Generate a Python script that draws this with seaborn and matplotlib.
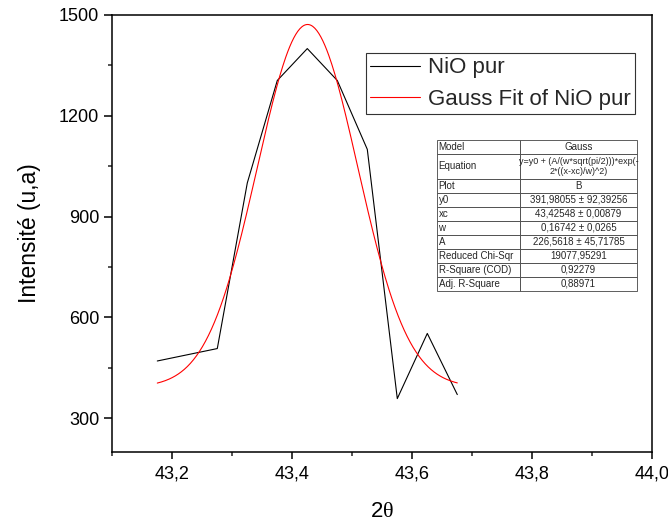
import numpy as np
import pandas as pd
import seaborn as sns
import matplotlib
matplotlib.use("Agg")
import matplotlib.pyplot as plt
from matplotlib.ticker import MultipleLocator, FuncFormatter, FixedLocator

# ---- data ----
two_theta = [43.175, 43.275, 43.325, 43.375, 43.425, 43.475, 43.525, 43.575, 43.625, 43.675]
intensity = [470, 507, 1000, 1305, 1400, 1305, 1100, 358, 552, 370]

# Gauss fit parameters (from the fit table)
y0_fit = 391.98055
xc_fit = 43.42548
w_fit = 0.16742
A_fit = 226.5618

x_ticks = [43.2, 43.4, 43.6, 43.8, 44.0]
y_ticks = [300, 600, 900, 1200, 1500]

table_labels = ["Model", "Equation", "Plot", "y0", "xc", "w", "A",
                "Reduced Chi-Sqr", "R-Square (COD)", "Adj. R-Square"]
table_values = ["Gauss",
                "y=y0 + (A/(w*sqrt(pi/2)))*exp(-\n2*((x-xc)/w)^2)",
                "B",
                "391,98055 \u00b1 92,39256",
                "43,42548 \u00b1 0,00879",
                "0,16742 \u00b1 0,0265",
                "226,5618 \u00b1 45,71785",
                "19077,95291",
                "0,92279",
                "0,88971"]

# ---- style ----
sns.set_theme(style="ticks")
plt.rcParams['font.family'] = ['Liberation Sans', 'DejaVu Sans']
plt.rcParams['mathtext.fontset'] = 'custom'
plt.rcParams['mathtext.rm'] = 'Liberation Serif'

fig = plt.figure(figsize=(6.68, 5.24), dpi=100)
ax = fig.add_axes([0.1681, 0.1380, 0.8084, 0.8334])

df = pd.DataFrame({"x": two_theta, "y": intensity})
xs = np.linspace(two_theta[0], two_theta[-1], 300)
ys = y0_fit + A_fit / (w_fit * np.sqrt(np.pi / 2)) * np.exp(-2 * ((xs - xc_fit) / w_fit) ** 2)
fit_df = pd.DataFrame({"x": xs, "y": ys})

sns.lineplot(data=df, x="x", y="y", ax=ax, color="black", lw=0.8,
             label="NiO pur", sort=False, estimator=None)
sns.lineplot(data=fit_df, x="x", y="y", ax=ax, color="#ff0000", lw=0.8,
             label="Gauss Fit of NiO pur", sort=False, estimator=None)

ax.set_xlim(43.1, 44.0)
ax.set_ylim(200, 1500)
ax.xaxis.set_major_locator(FixedLocator(x_ticks))
ax.xaxis.set_minor_locator(MultipleLocator(0.1))
ax.yaxis.set_major_locator(FixedLocator(y_ticks))
ax.yaxis.set_minor_locator(MultipleLocator(150))
ax.xaxis.set_major_formatter(FuncFormatter(lambda v, p: f"{v:.1f}".replace('.', ',')))
ax.yaxis.set_major_formatter(FuncFormatter(lambda v, p: f"{v:.0f}"))

for s in ax.spines.values():
    s.set_visible(True)
    s.set_linewidth(1.1)
    s.set_color("black")

ax.tick_params(axis='x', which='major', direction='out', length=5, width=1.1,
               labelsize=13, pad=5, colors='black', top=False)
ax.tick_params(axis='x', which='minor', direction='out', length=2.6, width=1.1,
               top=False, bottom=True)
ax.tick_params(axis='y', which='major', direction='out', length=5.5, width=1.1,
               labelsize=13, pad=4, colors='black', right=False)
ax.tick_params(axis='y', which='minor', direction='out', length=3.2, width=1.1,
               right=False, left=True)

ax.set_xlabel(r"2$\mathrm{θ}$", fontsize=16, labelpad=13, color='black')
ax.set_ylabel("Intensité (u,a)", fontsize=16.5, labelpad=13, color='black')

leg = ax.legend(loc='upper left', bbox_to_anchor=(0.470, 0.912), fontsize=16,
                frameon=True, fancybox=False, framealpha=1, edgecolor='#333333',
                handlelength=2.25, handletextpad=0.35, borderpad=0.18,
                labelspacing=0.48, borderaxespad=0)
leg.get_frame().set_linewidth(0.8)

# ---- fit table ----
cell_text = [[l, v] for l, v in zip(table_labels, table_values)]
tbl = ax.table(cellText=cell_text, colWidths=[0.415, 0.585],
               bbox=[0.601, 0.368, 0.371, 0.346], cellLoc='center')
tbl.auto_set_font_size(False)
tbl.set_fontsize(7)
for (r, c), cell in tbl.get_celld().items():
    cell.set_linewidth(0.6)
    cell.set_edgecolor('#444444')
    cell.set_facecolor('white')
    cell.PAD = 0.02
    if c == 0:
        cell._loc = 'left'
        cell._text.set_horizontalalignment('left')
    if r == 1:
        cell.set_height(cell.get_height() * 1.75)
        if c == 1:
            cell._text.set_fontsize(6.5)

fig.savefig("out.png", dpi=100)
